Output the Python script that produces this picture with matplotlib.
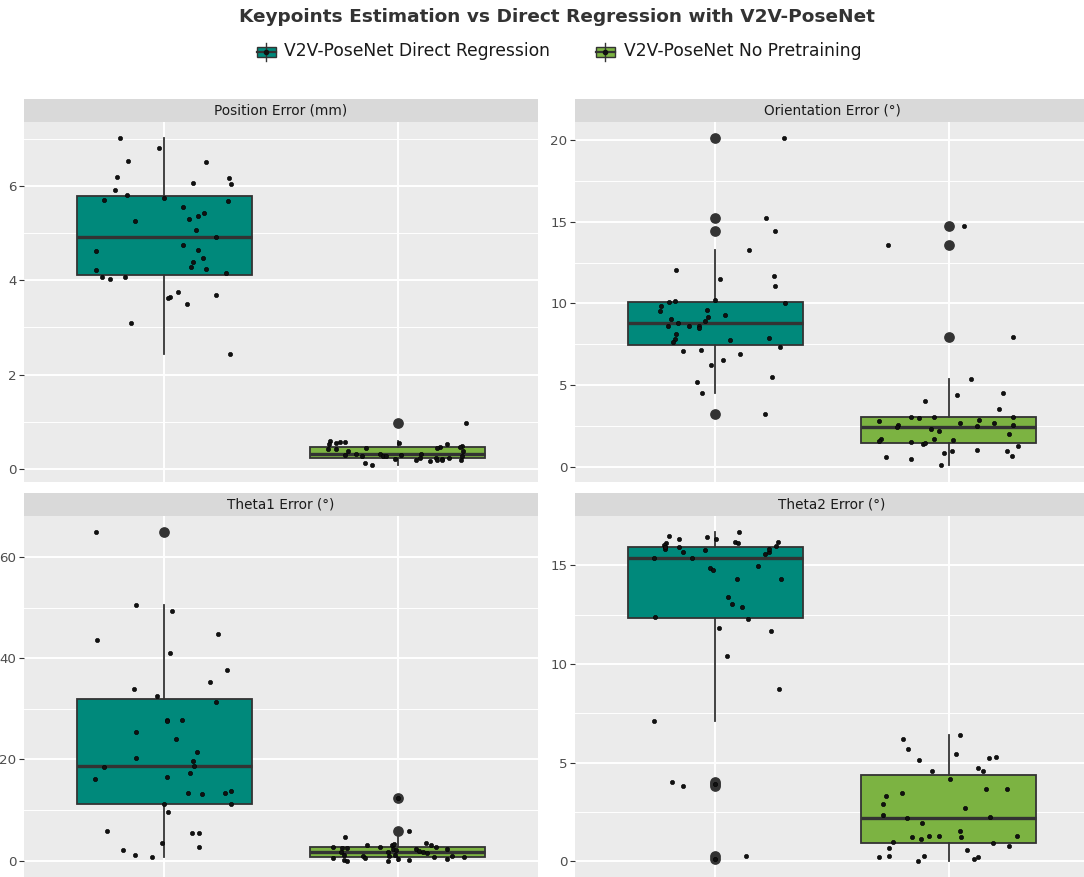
import matplotlib
matplotlib.use("Agg")
import matplotlib.pyplot as plt
from matplotlib.ticker import MultipleLocator
from matplotlib.patches import Rectangle
from matplotlib.lines import Line2D

# ---------------- data ----------------
groups = ["V2V-PoseNet Direct Regression", "V2V-PoseNet No Pretraining"]
group_colors = ["#00897B", "#7CB342"]
panel_titles = ["Position Error (mm)", "Orientation Error (°)", "Theta1 Error (°)", "Theta2 Error (°)"]

# Position error
pos_direct = [7.01, 6.79, 6.52, 6.51, 6.19, 6.17, 6.06, 6.03, 5.92, 5.81, 5.75, 5.69, 5.67,
              5.55, 5.30, 5.36, 5.43, 5.26, 5.06, 4.92, 4.74, 4.62, 4.64, 4.46, 4.38, 4.28,
              4.24, 4.22, 4.16, 4.07, 4.07, 4.02, 3.76, 3.65, 3.62, 3.69, 3.50, 3.10, 2.43]
pos_direct_jit = [-0.188, -0.022, -0.153, 0.179, -0.201, 0.276, 0.123, 0.285, -0.209, -0.160,
                  0.0, -0.258, 0.275, 0.082, 0.107, 0.145, 0.169, -0.123, 0.138, 0.222, 0.079,
                  -0.292, 0.144, 0.167, 0.125, 0.113, 0.179, -0.292, 0.266, -0.266, -0.167,
                  -0.232, 0.060, 0.025, 0.016, 0.223, 0.097, -0.140, 0.283]
pos_nopre = [0.98, 0.59, 0.54, 0.55, 0.57, 0.58, 0.56, 0.54, 0.43, 0.42, 0.44, 0.47, 0.44,
             0.49, 0.46, 0.39, 0.38, 0.33, 0.30, 0.27, 0.32, 0.28, 0.27, 0.30, 0.32, 0.21,
             0.20, 0.23, 0.24, 0.20, 0.21, 0.19, 0.23, 0.27, 0.20, 0.18, 0.12, 0.08]
pos_nopre_jit = [0.292, -0.289, -0.294, -0.264, -0.247, -0.225, 0.003, 0.209, -0.297, -0.264,
                 -0.137, 0.179, 0.166, 0.275, 0.266, 0.279, -0.213, -0.179, -0.225, -0.153,
                 -0.078, -0.063, -0.050, 0.015, 0.098, -0.010, 0.079, 0.097, 0.162, 0.166,
                 0.191, 0.191, 0.220, 0.273, 0.270, 0.137, -0.141, -0.112]

# Orientation error
ori_direct = [20.12, 15.25, 14.40, 13.24, 12.02, 11.51, 11.65, 11.04, 10.16, 10.06, 10.22,
              10.00, 9.82, 9.55, 9.59, 9.31, 9.16, 9.06, 8.90, 8.80, 8.59, 8.59, 8.59, 8.51,
              8.15, 7.90, 7.82, 7.78, 7.64, 7.31, 7.09, 7.17, 6.88, 6.56, 6.23, 5.46, 5.21,
              4.52, 3.20]
ori_direct_jit = [0.296, 0.218, 0.258, 0.144, -0.166, 0.019, 0.253, 0.256, -0.170, -0.196,
                  -0.001, 0.299, -0.234, -0.236, -0.037, 0.043, -0.030, -0.190, -0.044, -0.161,
                  -0.200, -0.113, -0.071, -0.070, -0.169, 0.231, -0.173, 0.062, -0.182, 0.276,
                  -0.139, -0.059, 0.108, 0.034, -0.016, 0.244, -0.079, -0.055, 0.213]
ori_nopre = [14.75, 13.60, 7.92, 5.34, 4.38, 4.48, 4.05, 3.52, 3.03, 2.99, 3.03, 3.03, 2.81,
             2.85, 2.67, 2.69, 2.53, 2.44, 2.51, 2.53, 2.32, 2.20, 2.02, 1.71, 1.71, 1.55,
             1.61, 1.51, 1.41, 1.45, 1.28, 1.00, 0.94, 0.94, 0.81, 0.61, 0.63, 0.49, 0.08]
ori_nopre_jit = [0.067, -0.259, 0.273, 0.093, 0.036, 0.233, -0.104, 0.213, -0.161, -0.126,
                 -0.064, 0.273, -0.299, 0.130, 0.047, 0.193, -0.219, -0.221, 0.119, 0.276,
                 -0.076, -0.041, 0.259, -0.292, -0.064, -0.298, 0.016, -0.164, -0.110, -0.101,
                 0.295, 0.120, 0.012, 0.247, -0.022, -0.268, 0.271, -0.164, -0.034]

# Theta1 error
th1_direct = [64.89, 50.62, 49.36, 43.61, 44.80, 41.04, 37.73, 35.35, 33.83, 32.58, 31.39,
              27.75, 27.62, 27.75, 25.37, 24.05, 21.41, 20.29, 19.76, 18.50, 18.63, 17.25,
              16.19, 16.52, 13.41, 13.15, 13.35, 13.68, 11.23, 11.23, 9.58, 5.88, 5.55, 5.42,
              3.57, 2.64, 2.18, 1.19, 0.66]
th1_direct_jit = [-0.291, -0.120, 0.032, -0.289, 0.232, 0.023, 0.270, 0.198, -0.128, -0.029,
                  0.222, 0.010, 0.013, 0.076, -0.119, 0.050, 0.142, -0.122, 0.125, -0.257,
                  0.126, 0.112, -0.295, 0.012, 0.101, 0.162, 0.261, 0.286, 0.001, 0.286,
                  0.016, -0.244, 0.147, 0.117, -0.010, 0.150, -0.178, -0.123, -0.051]
th1_nopre = [12.29, 5.88, 4.76, 3.17, 3.17, 3.24, 3.57, 3.04, 2.71, 2.64, 2.58, 2.58, 2.71,
             2.31, 2.31, 2.31, 2.05, 1.85, 1.65, 1.65, 1.65, 1.52, 1.12, 0.99, 1.12, 0.93,
             0.86, 0.73, 0.46, 0.46, 0.66, 0.33, 0.20, 0.20, 0.26, 0.00, 0.00]
th1_nopre_jit = [0.0, 0.047, -0.228, -0.134, -0.026, -0.015, 0.122, 0.141, 0.164, -0.278,
                 -0.239, -0.217, -0.078, 0.210, -0.021, 0.076, -0.006, 0.090, -0.242, -0.044,
                 0.106, 0.125, -0.229, -0.037, -0.010, -0.150, 0.233, 0.285, -0.279, -0.141,
                 0.154, 0.001, -0.229, 0.047, 0.210, -0.216, -0.044]

# Theta2 error
th2_direct = [16.66, 16.46, 16.42, 16.35, 16.34, 16.18, 16.13, 16.18, 16.10, 16.03, 15.93,
              15.81, 15.93, 15.95, 15.76, 15.66, 15.69, 15.59, 15.37, 15.34, 14.97, 14.86,
              14.75, 14.30, 14.30, 13.41, 13.05, 12.88, 12.39, 12.27, 11.83, 11.68, 10.38,
              8.70, 7.09, 4.03, 3.81, 0.27, 3.93, 0.10, 15.90, 15.80]
th2_direct_jit = [0.104, -0.196, -0.037, 0.004, -0.156, 0.086, 0.099, 0.271, -0.209, -0.218,
                  -0.215, -0.215, -0.156, 0.261, -0.043, -0.139, 0.231, 0.212, -0.261, -0.101,
                  0.185, -0.022, -0.009, 0.093, 0.281, 0.056, 0.070, 0.113, -0.256, 0.141,
                  0.016, 0.239, 0.049, 0.274, -0.264, -0.185, -0.139, 0.130, 0.0, 0.0,
                  -0.213, 0.231]
th2_nopre = [6.40, 6.21, 5.67, 5.42, 5.27, 5.23, 5.11, 4.72, 4.57, 4.57, 4.15, 3.64, 3.64,
             3.45, 3.32, 2.88, 2.67, 2.34, 2.22, 2.17, 1.93, 1.52, 1.27, 1.30, 1.25, 1.29,
             1.22, 1.10, 0.96, 0.93, 0.76, 0.66, 0.58, 0.22, 0.25, 0.25, 0.20, 0.10, 0.03]
th2_nopre_jit = [0.047, -0.196, -0.173, 0.030, 0.204, 0.172, -0.127, 0.124, 0.148, -0.071,
                 0.004, 0.161, 0.247, -0.199, -0.268, -0.280, 0.068, -0.280, 0.176, -0.181,
                 -0.114, 0.050, -0.086, -0.043, 0.052, 0.292, -0.159, -0.119, -0.240, 0.191,
                 0.259, -0.258, 0.079, -0.298, -0.256, -0.108, 0.126, 0.108, -0.133]

panel_data = [
    ([pos_direct, pos_nopre], [pos_direct_jit, pos_nopre_jit]),
    ([ori_direct, ori_nopre], [ori_direct_jit, ori_nopre_jit]),
    ([th1_direct, th1_nopre], [th1_direct_jit, th1_nopre_jit]),
    ([th2_direct, th2_nopre], [th2_direct_jit, th2_nopre_jit]),
]
major_steps = [2, 5, 20, 5]

# ---------------- layout ----------------
W, H = 1084, 877
fig = plt.figure(figsize=(W / 100, H / 100), dpi=100)
fig.patch.set_facecolor("white")

def fx(px):
    return px / W

def fy(py):
    return 1 - py / H

panel_boxes = [  # left, top, right, bottom (pixels); right column runs past the edge
    (24, 121.7, 538, 481.7),
    (575, 121.7, 1089, 481.7),
    (24, 516, 538, 877),
    (575, 516, 1089, 877),
]
strip_h = 22.7

EDGE = "#333333"
for i, (l, t, r, b) in enumerate(panel_boxes):
    ax = fig.add_axes([fx(l), fy(b), (r - l) / W, (b - t) / H])
    ax.set_facecolor("#EBEBEB")
    for s in ax.spines.values():
        s.set_visible(False)
    vals, jits = panel_data[i]
    bp = ax.boxplot(vals, positions=[1, 2], widths=0.75, patch_artist=True,
                    showcaps=False, whis=1.5, zorder=3,
                    boxprops=dict(edgecolor=EDGE, linewidth=1.3),
                    whiskerprops=dict(color=EDGE, linewidth=1.3),
                    medianprops=dict(color=EDGE, linewidth=2.4),
                    flierprops=dict(marker="o", markerfacecolor=EDGE, markeredgecolor=EDGE,
                                    markersize=6.7, linestyle="none"))
    for patch, c in zip(bp["boxes"], group_colors):
        patch.set_facecolor(c)
    for g in range(2):
        xs = [g + 1 + j for j in jits[g]]
        ax.plot(xs, vals[g], "o", color="#111111", markersize=3.1, markeredgewidth=0.4,
                markeredgecolor="#000000", linestyle="none", zorder=4)
    ax.set_xlim(0.4, 2.6)
    ax.margins(y=0.05)
    ax.set_xticks([1, 2])
    ax.set_xticklabels([])
    ax.tick_params(axis="x", length=0)
    ax.yaxis.set_major_locator(MultipleLocator(major_steps[i]))
    ax.yaxis.set_minor_locator(MultipleLocator(major_steps[i] / 2))
    ax.tick_params(axis="y", which="major", length=3.5, width=0.8, color="#333333",
                   labelsize=9.6, labelcolor="#4D4D4D", pad=2)
    ax.tick_params(axis="y", which="minor", length=0)
    ax.grid(True, which="major", color="white", linewidth=1.4, zorder=0)
    ax.grid(True, which="minor", axis="y", color="white", linewidth=0.7, zorder=0)
    ax.set_axisbelow(True)
    # strip
    sax = fig.add_axes([fx(l), fy(t), (r - l) / W, strip_h / H])
    sax.set_facecolor("#D9D9D9")
    sax.set_xticks([])
    sax.set_yticks([])
    for s in sax.spines.values():
        s.set_visible(False)
    sax.text(0.5, 0.5, panel_titles[i], ha="center", va="center", fontsize=9.8,
             color="#1A1A1A", transform=sax.transAxes)

# ---------------- title ----------------
fig.text(fx(557), fy(17), "Keypoints Estimation vs Direct Regression with V2V-PoseNet",
         ha="center", va="center", fontsize=13.3, fontweight="bold", color="#333333")

# ---------------- legend ----------------
key_lefts = [256.5, 595.5]
text_lefts = [284, 624]
ky = 51.5
for k in range(2):
    kl = key_lefts[k]
    kc = kl + 9.5
    fig.add_artist(Line2D([fx(kc), fx(kc)], [fy(42.5), fy(60.5)], color=EDGE, linewidth=1.0,
                          transform=fig.transFigure))
    fig.add_artist(Rectangle((fx(kl), fy(57.3)), 19 / W, 10.6 / H, facecolor=group_colors[k],
                             edgecolor=EDGE, linewidth=1.0, transform=fig.transFigure))
    fig.add_artist(Line2D([fx(kl), fx(kl + 19)], [fy(ky), fy(ky)], color=EDGE, linewidth=1.6,
                          transform=fig.transFigure))
    fig.add_artist(Line2D([fx(kc)], [fy(ky)], marker="o", markersize=3, color="#111111",
                          linestyle="none", transform=fig.transFigure))
    fig.text(fx(text_lefts[k]), fy(ky), groups[k], ha="left", va="center", fontsize=12.3,
             color="#1A1A1A")

fig.savefig("out.png", dpi=100, facecolor="white")
